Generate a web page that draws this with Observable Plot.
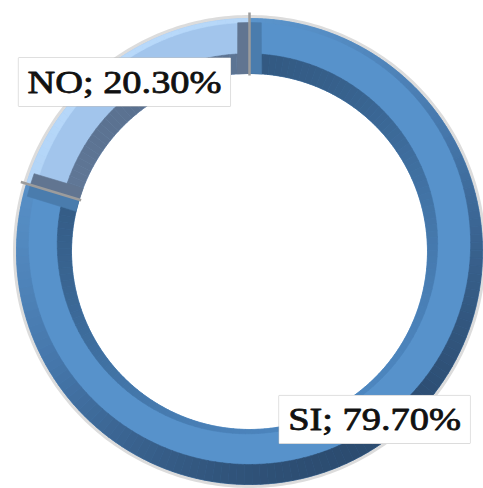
<!DOCTYPE html>
<html><head><meta charset="utf-8">
<script src="https://cdn.jsdelivr.net/npm/d3@7"></script>
<script src="https://cdn.jsdelivr.net/npm/@observablehq/plot@0.6"></script>
<style>html,body{margin:0;padding:0;background:#fff;overflow:hidden}</style>
</head><body><div id="chart"></div>
<script>
const categories = ["SI", "NO"];
const values = [79.7, 20.3];
const labels = ["SI; 79.70%", "NO; 20.30%"];

const W = 483, H = 488;
const R_OUT = 233, R_IN = 178, LABEL_R = 210;
const DEG = Math.PI / 180;
const STRETCH = 1.2;

const styles = {
  SI: {face: "#5792CB", outer: ["#5E99D1", "#4576AA", "#2C4C70"], inner: ["#30557C", "#4D86BF"], cap: "#4A7CAD"},
  NO: {face: "#A2C5EC", outer: ["#B8D9FA", "#A2C5EC", "#7FA3CB"], inner: ["#5A7190", "#8FA9C8"], cap: "#617591"}
};

const total = d3.sum(values);
let acc = 0;
const slices = categories.map((c, i) => {
  const a0 = acc / total * 2 * Math.PI; acc += values[i];
  const a1 = acc / total * 2 * Math.PI;
  return {cat: c, value: values[i], label: labels[i], a0, a1, mid: (a0 + a1) / 2};
});

const px = (r, a) => r * Math.sin(a), py = (r, a) => r * Math.cos(a);
const LIGHT = -30 * DEG;
const tAt = a => (1 - Math.cos(a - LIGHT)) / 2;
const wOut = a => 12 + 8 * Math.cos(a - Math.PI);
const wIn = a => 12 + 8 * Math.cos(a + 15 * DEG);

function band(id, color, a0, a1, rOuter, rInner, step) {
  const n = Math.max(1, Math.ceil((a1 - a0) / step));
  const pts = [];
  for (let k = 0; k <= n; k++) { const a = a0 + (a1 - a0) * k / n, r = rOuter(a); pts.push({id, color, x: px(r, a), y: py(r, a)}); }
  for (let k = n; k >= 0; k--) { const a = a0 + (a1 - a0) * k / n, r = rInner(a); pts.push({id, color, x: px(r, a), y: py(r, a)}); }
  return pts;
}

const faces = [], outers = [], inners = [], caps = [], halo = [];
for (let k = 0; k <= 360; k++) halo.push({x: px(R_OUT + 1.5, k * DEG), y: py(R_OUT + 1.5, k * DEG)});
for (const s of slices) {
  const st = styles[s.cat];
  faces.push(...band(s.cat + "-face", st.face, s.a0, s.a1, () => R_OUT, () => R_IN, 0.5 * DEG));
  const oi = d3.piecewise(d3.interpolateRgb, st.outer);
  const ii = d3.interpolateRgb(st.inner[0], st.inner[1]);
  const step = 2 * DEG;
  const n = Math.ceil((s.a1 - s.a0) / step);
  for (let k = 0; k < n; k++) {
    const b0 = s.a0 + (s.a1 - s.a0) * k / n, b1 = s.a0 + (s.a1 - s.a0) * (k + 1) / n, m = (b0 + b1) / 2;
    outers.push(...band(`${s.cat}-o${k}`, oi(tAt(m)), b0, b1, () => R_OUT, a => R_OUT - wOut(a), 0.5 * DEG));
    inners.push(...band(`${s.cat}-i${k}`, ii(tAt(m)), b0, b1, a => R_IN + wIn(a), () => R_IN, 0.5 * DEG));
  }
  const capW = 12;
  for (const [edge, dir] of [[s.a0, 1], [s.a1, -1]]) {
    const id = `${s.cat}-cap${dir}`;
    caps.push(
      {id, color: st.cap, x: px(R_OUT - 4, edge), y: py(R_OUT - 4, edge)},
      {id, color: st.cap, x: px(R_OUT - 4, edge + dir * capW / R_OUT), y: py(R_OUT - 4, edge + dir * capW / R_OUT)},
      {id, color: st.cap, x: px(R_IN, edge + dir * capW / R_IN), y: py(R_IN, edge + dir * capW / R_IN)},
      {id, color: st.cap, x: px(R_IN, edge), y: py(R_IN, edge)}
    );
  }
}

const poly = data => Plot.line(data, {x: "x", y: "y", z: "id", fill: "color", stroke: "color", strokeWidth: 0.6, curve: "linear-closed"});

const plot = Plot.plot({
  width: W, height: H,
  margin: 0,
  x: {axis: null, domain: [-249, 234]},
  y: {axis: null, domain: [-237, 251]},
  color: {type: "identity"},
  marks: [
    Plot.line(halo, {x: "x", y: "y", stroke: "#9a9a9a", strokeWidth: 4, strokeOpacity: 0.35}),
    poly(faces),
    poly(outers),
    poly(inners),
    poly(caps),
    Plot.link(slices, {
      x1: d => px(R_IN - 2, d.a0), y1: d => py(R_IN - 2, d.a0),
      x2: d => px(R_OUT + 6, d.a0), y2: d => py(R_OUT + 6, d.a0),
      stroke: "#9C9C9C", strokeWidth: 2.5
    }),
    Plot.text(slices, {
      x: d => px(LABEL_R, d.mid), y: d => py(LABEL_R, d.mid),
      text: "label", fontSize: 32, fill: "#111", stroke: "#111", strokeWidth: 0.8,
      fontFamily: "'Liberation Serif', 'Times New Roman', serif",
      textAnchor: "middle", lineAnchor: "middle"
    })
  ]
});
document.getElementById("chart").append(plot);

plot.querySelectorAll('g[aria-label="text"] text').forEach(t => {
  const bb = t.getBBox();
  t.setAttribute("textLength", bb.width * STRETCH);
  t.setAttribute("lengthAdjust", "spacingAndGlyphs");
  const b = t.getBBox();
  const rect = document.createElementNS("http://www.w3.org/2000/svg", "rect");
  const padX = 9, padY = 6;
  rect.setAttribute("x", b.x - padX);
  rect.setAttribute("y", b.y - padY);
  rect.setAttribute("width", b.width + 2 * padX);
  rect.setAttribute("height", b.height + 2 * padY);
  rect.setAttribute("fill", "#fff");
  rect.setAttribute("stroke", "#BDBDBD");
  rect.setAttribute("stroke-width", 1);
  if (t.getAttribute("transform")) rect.setAttribute("transform", t.getAttribute("transform"));
  t.parentNode.insertBefore(rect, t);
});
</script>
</body></html>
